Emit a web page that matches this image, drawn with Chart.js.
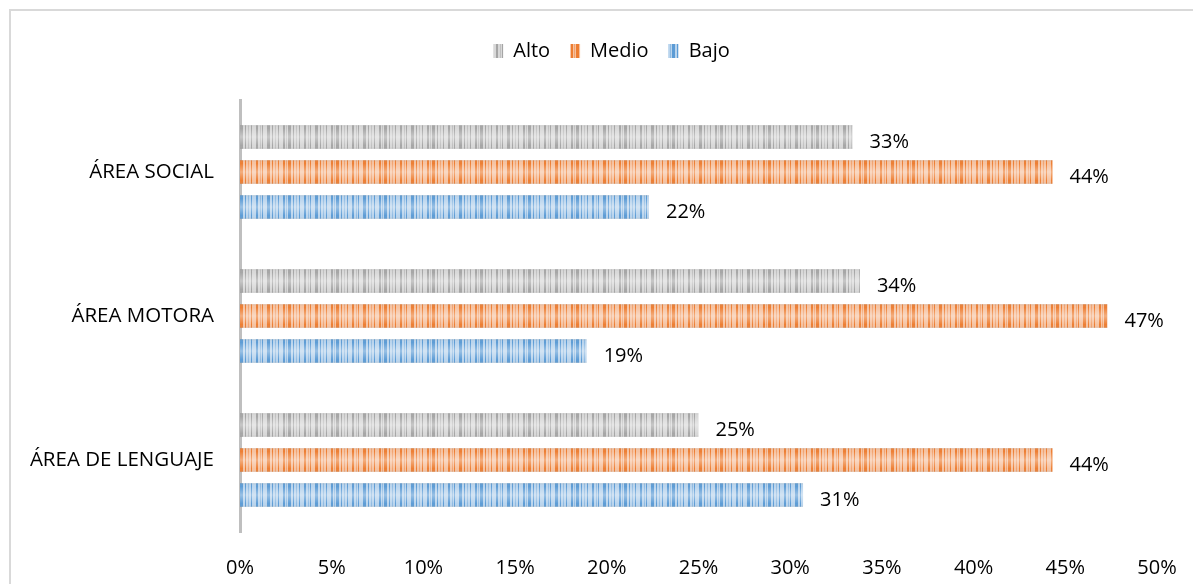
<!DOCTYPE html>
<html>
<head>
<meta charset="utf-8">
<script src="https://cdn.jsdelivr.net/npm/chart.js@4/dist/chart.umd.min.js"></script>
<style>
  html, body { margin: 0; padding: 0; background: #fff; overflow: hidden; }
  canvas { display: block; }
</style>
</head>
<body>
<canvas id="c" width="1193" height="584"></canvas>
<script>
// Áreas evaluadas (de arriba hacia abajo)
const categories = ['ÁREA SOCIAL', 'ÁREA MOTORA', 'ÁREA DE LENGUAJE'];
// Niveles
const seriesNames = ['Alto', 'Medio', 'Bajo'];
// Porcentajes por nivel y área
const alto  = [33.4, 33.8, 25.0];
const medio = [44.3, 47.3, 44.3];
const bajo  = [22.3, 18.9, 30.7];
// Marcas del eje de porcentajes
const xTickValues = [0, 5, 10, 15, 20, 25, 30, 35, 40, 45, 50];

const FONT = '"Open Sans", "Noto Sans", sans-serif';
const canvas = document.getElementById('c');
const ctx = canvas.getContext('2d');

// Barcode-like vertical stripe fill
const STRIPES = [
  [0, 3, 1], [5, 1, 1], [8, 1, 0.45], [11, 1, 1],
  [16, 2, 1], [20, 1, 0.45], [22, 1, 1],
  [27, 3, 1], [32, 1, 1], [35, 1, 0.45], [38, 1, 1],
  [43, 2, 1], [46, 1, 0.45]
];
function stripePattern(base, dark) {
  const t = document.createElement('canvas');
  t.width = 48; t.height = 4;
  const g = t.getContext('2d');
  g.fillStyle = base;
  g.fillRect(0, 0, t.width, t.height);
  g.fillStyle = dark;
  for (const [x, w, a] of STRIPES) {
    g.globalAlpha = a;
    g.fillRect(x, 0, w, t.height);
  }
  return ctx.createPattern(t, 'repeat');
}

const fills = [
  stripePattern('#d8d8d8', '#a5a5a5'),
  stripePattern('#f6c2a0', '#ed7d31'),
  stripePattern('#b9d4ed', '#5b9bd5')
];

// Light frame along the top and left edges
const frame = {
  id: 'frame',
  beforeDraw(chart) {
    const c = chart.ctx;
    c.save();
    c.fillStyle = '#d9d9d9';
    c.fillRect(9, 9, chart.width - 9, 2);
    c.fillRect(9, 9, 2, chart.height - 9);
    c.restore();
  }
};

// Soft horizontal highlight across each bar
const sheen = {
  id: 'sheen',
  afterDatasetsDraw(chart) {
    const c = chart.ctx;
    c.save();
    chart.data.datasets.forEach((ds, i) => {
      chart.getDatasetMeta(i).data.forEach(bar => {
        const p = bar.getProps(['x', 'y', 'base', 'height'], true);
        const top = p.y - p.height / 2;
        const gr = c.createLinearGradient(0, top, 0, top + p.height);
        gr.addColorStop(0, 'rgba(110,110,110,0.18)');
        gr.addColorStop(0.12, 'rgba(255,255,255,0)');
        gr.addColorStop(0.5, 'rgba(255,255,255,0.38)');
        gr.addColorStop(0.88, 'rgba(255,255,255,0)');
        gr.addColorStop(1, 'rgba(110,110,110,0.18)');
        c.fillStyle = gr;
        c.fillRect(p.base, top, p.x - p.base, p.height);
      });
    });
    c.restore();
  }
};

// Percentage labels at the end of each bar
const valueLabels = {
  id: 'valueLabels',
  afterDatasetsDraw(chart) {
    const c = chart.ctx;
    c.save();
    c.font = '20px ' + FONT;
    c.fillStyle = '#000';
    c.textAlign = 'left';
    c.textBaseline = 'middle';
    chart.data.datasets.forEach((ds, i) => {
      chart.getDatasetMeta(i).data.forEach((bar, j) => {
        const p = bar.getProps(['x', 'y'], true);
        c.fillText(Math.round(ds.data[j]) + '%', p.x + 17, p.y + 5);
      });
    });
    c.restore();
  }
};

// Fixed legend band height, legend row nudged right
const legendBand = {
  id: 'legendBand',
  beforeInit(chart) {
    const fit = chart.legend.fit;
    chart.legend.fit = function () {
      fit.call(this);
      this.height = 79;
    };
  },
  afterLayout(chart) {
    chart.legend.left += 33;
    chart.legend.right += 33;
  }
};

const seriesData = [alto, medio, bajo];

new Chart(ctx, {
  type: 'bar',
  data: {
    labels: categories,
    datasets: seriesNames.map((name, i) => ({
      label: name,
      data: seriesData[i],
      backgroundColor: fills[i],
      borderWidth: 0,
      categoryPercentage: 0.73,
      barPercentage: 0.67
    }))
  },
  options: {
    indexAxis: 'y',
    responsive: false,
    animation: false,
    devicePixelRatio: 1,
    layout: { padding: { left: 0, right: 36, top: 21, bottom: 0 } },
    plugins: {
      tooltip: { enabled: false },
      legend: {
        position: 'top',
        align: 'center',
        labels: {
          boxWidth: 10,
          boxHeight: 14,
          padding: 20,
          color: '#000',
          font: { family: FONT, size: 20 }
        }
      }
    },
    scales: {
      x: {
        min: 0,
        max: 50,
        afterBuildTicks: s => { s.ticks = xTickValues.map(v => ({ value: v })); },
        afterFit: s => {
          s.height = 52;
          s.paddingLeft = 0;
          s.paddingRight = 0;
        },
        grid: { display: false, drawTicks: false },
        border: { display: false },
        ticks: {
          padding: 24,
          color: '#000',
          font: { family: FONT, size: 20 },
          callback: v => v + '%'
        }
      },
      y: {
        z: 1,
        afterFit: s => { s.width = 240; },
        grid: { display: false, drawTicks: false },
        border: { display: true, color: '#bfbfbf', width: 3 },
        ticks: {
          padding: 26,
          color: '#000',
          font: { family: FONT, size: 20.5 }
        }
      }
    }
  },
  plugins: [legendBand, frame, sheen, valueLabels]
});
</script>
</body>
</html>
